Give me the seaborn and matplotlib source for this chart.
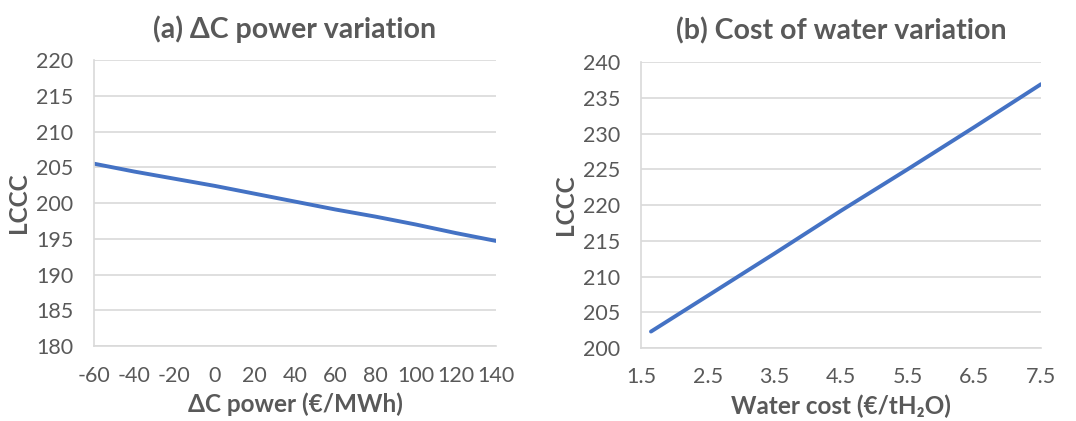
import matplotlib
matplotlib.use("Agg")
import matplotlib.pyplot as plt
import seaborn as sns
import pandas as pd

# Data
dc_power = [-60, -40, -20, 0, 20, 40, 60, 80, 100, 120, 140]
lccc_power = [205.5, 204.4, 203.4, 202.4, 201.3, 200.2, 199.1, 198.1, 197.0, 195.8, 194.7]

water_cost = [1.65, 2.5, 3.5, 4.5, 5.5, 6.5, 7.5]
lccc_water = [202.3, 207.3, 213.2, 219.2, 225.0, 230.9, 236.9]

power_ticks = [-60, -40, -20, 0, 20, 40, 60, 80, 100, 120, 140]
power_ticklabels = ["-60", "-40", "-20", "0", "20", "40", "60", "80", "100", "120", "140"]
water_ticks = [1.5, 2.5, 3.5, 4.5, 5.5, 6.5, 7.5]
water_ticklabels = ["1.5", "2.5", "3.5", "4.5", "5.5", "6.5", "7.5"]

titles = ["(a) \u0394C power variation", "(b) Cost of water variation"]
xlabels = ["\u0394C power (\u20ac/MWh)", "Water cost (\u20ac/tH\u2082O)"]
ylabel = "LCCC"

sns.set_style("white")
plt.rcParams['font.family'] = ['Lato', 'DejaVu Sans']

TXT = "#595959"
LINE = "#4472C4"
GRID = "#D9D9D9"

fig = plt.figure(figsize=(10.76, 4.21), dpi=100)
ax1 = fig.add_axes([0.0874, 0.178, 0.3736, 0.6795])
ax2 = fig.add_axes([0.5957, 0.1734, 0.3718, 0.6793])

df1 = pd.DataFrame({"x": dc_power, "y": lccc_power})
df2 = pd.DataFrame({"x": water_cost, "y": lccc_water})

sns.lineplot(data=df1, x="x", y="y", ax=ax1, color=LINE, linewidth=2.8)
sns.lineplot(data=df2, x="x", y="y", ax=ax2, color=LINE, linewidth=2.8)

ax1.set_xlim(-60, 140)
ax1.set_ylim(180, 220)
ax1.set_xticks(power_ticks)
ax1.set_xticklabels(power_ticklabels)
ax1.set_yticks(list(range(180, 221, 5)))

ax2.set_xlim(1.5, 7.5)
ax2.set_ylim(200, 240)
ax2.set_xticks(water_ticks)
ax2.set_xticklabels(water_ticklabels)
ax2.set_yticks(list(range(200, 241, 5)))

for ax, t, xl in [(ax1, titles[0], xlabels[0]), (ax2, titles[1], xlabels[1])]:
    ax.grid(axis="y", color=GRID, linewidth=1.2)
    ax.set_axisbelow(True)
    for s in ["top", "right"]:
        ax.spines[s].set_visible(False)
    for s in ["left", "bottom"]:
        ax.spines[s].set_color(GRID)
        ax.spines[s].set_linewidth(1.2)
    ax.tick_params(axis="both", length=0, labelsize=15.5, labelcolor=TXT)
    ax.tick_params(axis="x", pad=14)
    ax.tick_params(axis="y", pad=15)
    ax.set_title(t, fontsize=20.5, fontweight="bold", color=TXT, pad=16)
    ax.set_xlabel(xl, fontsize=17.5, fontweight="bold", color=TXT, labelpad=5)
    ax.set_ylabel(ylabel, fontsize=17.5, fontweight="bold", color=TXT, labelpad=4)

fig.savefig("out.png", dpi=100)
